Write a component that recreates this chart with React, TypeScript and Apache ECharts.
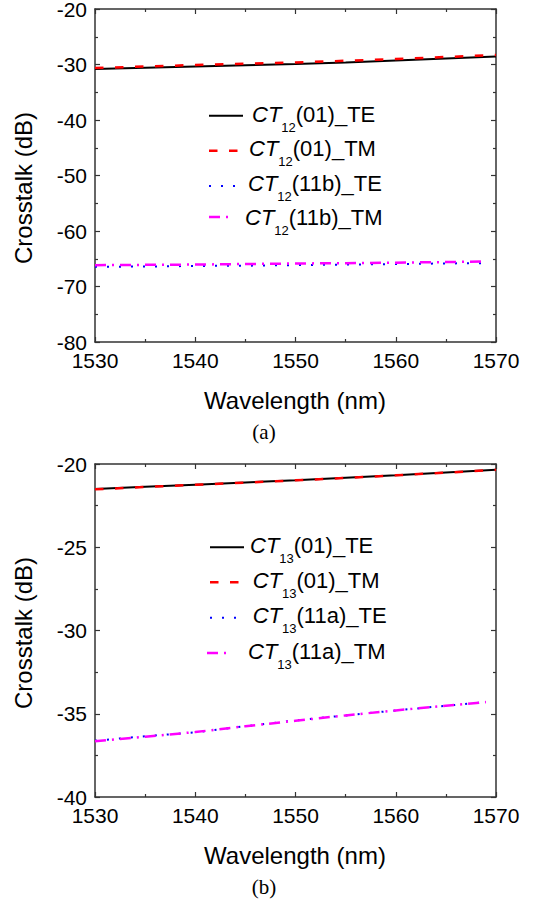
import React, { useEffect, useRef } from "react";
import * as echarts from "echarts";

// ---- data ----
const wavelength = [1530, 1535, 1540, 1545, 1550, 1555, 1560, 1565, 1570];
const wavelengthHO = [1530, 1535, 1540, 1545, 1550, 1555, 1560, 1565, 1569];

// (a) CT12
const ct12_01_TE = [-30.8, -30.58, -30.34, -30.12, -29.91, -29.62, -29.26, -28.9, -28.54];
const ct12_01_TM = [-30.63, -30.37, -30.09, -29.85, -29.62, -29.33, -29.0, -28.65, -28.29];
const ct12_11b_TE = [-66.45, -66.4, -66.3, -66.25, -66.15, -66.05, -65.95, -65.85, -65.78];
const ct12_11b_TM = [-66.15, -66.1, -66.05, -65.95, -65.85, -65.8, -65.7, -65.6, -65.5];

// (b) CT13
const ct13_01_TE = [-21.5, -21.37, -21.24, -21.11, -20.98, -20.83, -20.68, -20.51, -20.34];
const ct13_01_TM = [-21.52, -21.38, -21.25, -21.12, -20.98, -20.84, -20.68, -20.52, -20.35];
const ct13_11a_TE = [-36.62, -36.35, -36.12, -35.75, -35.4, -35.1, -34.8, -34.52, -34.3];
const ct13_11a_TM = [-36.65, -36.38, -36.1, -35.75, -35.42, -35.1, -34.8, -34.52, -34.3];

const xTicks = { min: 1530, max: 1570, interval: 10 };
const yTicksA = { min: -80, max: -20, interval: 10 };
const yTicksB = { min: -40, max: -20, interval: 5 };

const legendA = ["(01)_TE", "(01)_TM", "(11b)_TE", "(11b)_TM"];
const legendB = ["(01)_TE", "(01)_TM", "(11a)_TE", "(11a)_TM"];

const SANS = "Arial, 'Liberation Sans', sans-serif";
const SERIF = "'Times New Roman', 'Liberation Serif', serif";
const AXIS_COLOR = "#333";

const zip = (xs: number[], ys: number[]) => xs.map((x, i) => [x, ys[i]]);

export default function App() {
  const ref = useRef<HTMLDivElement>(null);
  useEffect(() => {
    document.body.style.margin = "0";
    const chart = echarts.init(ref.current!, null, { renderer: "svg" });

    const grids = [
      { left: 95, top: 9, width: 401, height: 333, outerBoundsMode: "none" },
      { left: 95, top: 464, width: 401, height: 333, outerBoundsMode: "none" },
    ];

    const tickCommon = {
      axisLine: { show: true, onZero: false, lineStyle: { color: AXIS_COLOR, width: 1.5 } },
      axisTick: { show: true, inside: true, length: 5, lineStyle: { color: AXIS_COLOR, width: 1.2 } },
      minorTick: { show: true, splitNumber: 2, length: 3, lineStyle: { color: AXIS_COLOR, width: 1.2 } },
      splitLine: { show: false },
    };

    const xAxisBase = (gridIndex: number, position: string, showLabel: boolean) => ({
      type: "value",
      gridIndex,
      position,
      ...xTicks,
      ...tickCommon,
      axisLabel: {
        show: showLabel,
        margin: 8,
        color: "#000",
        fontSize: 21,
        fontFamily: SANS,
        formatter: (v: number) => String(v),
      },
    });

    const yAxisBase = (gridIndex: number, position: string, showLabel: boolean, ticks: any) => ({
      type: "value",
      gridIndex,
      position,
      ...ticks,
      ...tickCommon,
      axisLabel: {
        show: showLabel,
        margin: 8,
        color: "#000",
        fontSize: 21,
        fontFamily: SANS,
        formatter: (v: number) => String(v),
      },
    });

    const styles = [
      { color: "#000000", width: 2, type: "solid" },
      { color: "#ff0000", width: 2.5, type: [8.5, 11.5] },
      { color: "#0000ff", width: 2, type: [2, 10] },
      { color: "#ff00ff", width: 2.5, type: [11, 6, 2, 6] },
    ];

    const mk = (name: string, xi: number, yi: number, xs: number[], ys: number[], s: any) => ({
      name,
      type: "line",
      xAxisIndex: xi,
      yAxisIndex: yi,
      data: zip(xs, ys),
      showSymbol: false,
      symbol: "none",
      smooth: false,
      lineStyle: { color: s.color, width: s.width, type: s.type },
      itemStyle: { color: s.color },
    });

    const series = [
      mk("a1", 0, 0, wavelength, ct12_01_TE, styles[0]),
      mk("a2", 0, 0, wavelength, ct12_01_TM, styles[1]),
      mk("a3", 0, 0, wavelengthHO, ct12_11b_TE, styles[2]),
      mk("a4", 0, 0, wavelengthHO, ct12_11b_TM, styles[3]),
      mk("b1", 2, 2, wavelength, ct13_01_TE, styles[0]),
      mk("b2", 2, 2, wavelength, ct13_01_TM, styles[1]),
      mk("b3", 2, 2, wavelengthHO, ct13_11a_TE, styles[2]),
      mk("b4", 2, 2, wavelengthHO, ct13_11a_TM, styles[3]),
    ];

    const rich = {
      i: { fontSize: 22, fontStyle: "italic", fontFamily: SANS, fill: "#000" },
      s: { fontSize: 13, fontFamily: SANS, padding: [26, 0, 0, 0], fill: "#000" },
      n: { fontSize: 22, fontFamily: SANS, fill: "#000" },
    };

    const legendLine = (x1: number, x2: number, y: number, s: any) => ({
      type: "line",
      shape: { x1, y1: y, x2, y2: y },
      style: {
        stroke: s.color,
        lineWidth: s.width,
        lineDash: s.type === "solid" ? null : s.type,
      },
      silent: true,
    });
    const legendText = (x: number, y: number, sub: string, rest: string) => ({
      type: "text",
      x,
      y,
      style: {
        text: `{i|CT}{s|${sub}}{n|${rest}}`,
        rich,
        textVerticalAlign: "middle",
        textAlign: "left",
      },
      silent: true,
    });

    const legA = [
      { lx1: 209, lx2: 243, ly: 115.7, tx: 252, ty: 114 },
      { lx1: 209, lx2: 238, ly: 150.7, tx: 249, ty: 148.5 },
      { lx1: 209, lx2: 236, ly: 186, tx: 248, ty: 183 },
      { lx1: 209, lx2: 229, ly: 217, tx: 245, ty: 217.5 },
    ];
    const legB = [
      { lx1: 210, lx2: 244, ly: 547.3, tx: 250, ty: 545.3 },
      { lx1: 210, lx2: 239, ly: 582.3, tx: 252.7, ty: 580 },
      { lx1: 210, lx2: 237, ly: 617.7, tx: 252.7, ty: 615 },
      { lx1: 207, lx2: 228, ly: 653, tx: 248, ty: 651 },
    ];

    const graphic: any[] = [];
    legA.forEach((p, k) => {
      graphic.push(legendLine(p.lx1, p.lx2, p.ly, styles[k]));
      graphic.push(legendText(p.tx, p.ty, "12", legendA[k]));
    });
    legB.forEach((p, k) => {
      graphic.push(legendLine(p.lx1, p.lx2, p.ly, styles[k]));
      graphic.push(legendText(p.tx, p.ty, "13", legendB[k]));
    });

    const title = (x: number, y: number, text: string, font: string, size: number, rotation = 0) => ({
      type: "text",
      x,
      y,
      rotation,
      style: {
        text,
        fontSize: size,
        fontFamily: font,
        fill: "#000",
        textAlign: "center",
        textVerticalAlign: "middle",
      },
      silent: true,
    });
    graphic.push(title(295, 400, "Wavelength (nm)", SANS, 24));
    graphic.push(title(295, 855, "Wavelength (nm)", SANS, 24));
    graphic.push(title(264, 432, "(a)", SERIF, 21));
    graphic.push(title(264, 887, "(b)", SERIF, 21));
    graphic.push(title(23, 188, "Crosstalk (dB)", SANS, 24, Math.PI / 2));
    graphic.push(title(23, 633, "Crosstalk (dB)", SANS, 24, Math.PI / 2));

    chart.setOption({
      animation: false,
      backgroundColor: "#ffffff",
      grid: grids,
      xAxis: [
        xAxisBase(0, "bottom", true),
        xAxisBase(0, "top", false),
        xAxisBase(1, "bottom", true),
        xAxisBase(1, "top", false),
      ],
      yAxis: [
        yAxisBase(0, "left", true, yTicksA),
        yAxisBase(0, "right", false, yTicksA),
        yAxisBase(1, "left", true, yTicksB),
        yAxisBase(1, "right", false, yTicksB),
      ],
      series,
      graphic,
    });
    return () => chart.dispose();
  }, []);
  return <div ref={ref} style={{ width: 534, height: 903 }} />;
}
